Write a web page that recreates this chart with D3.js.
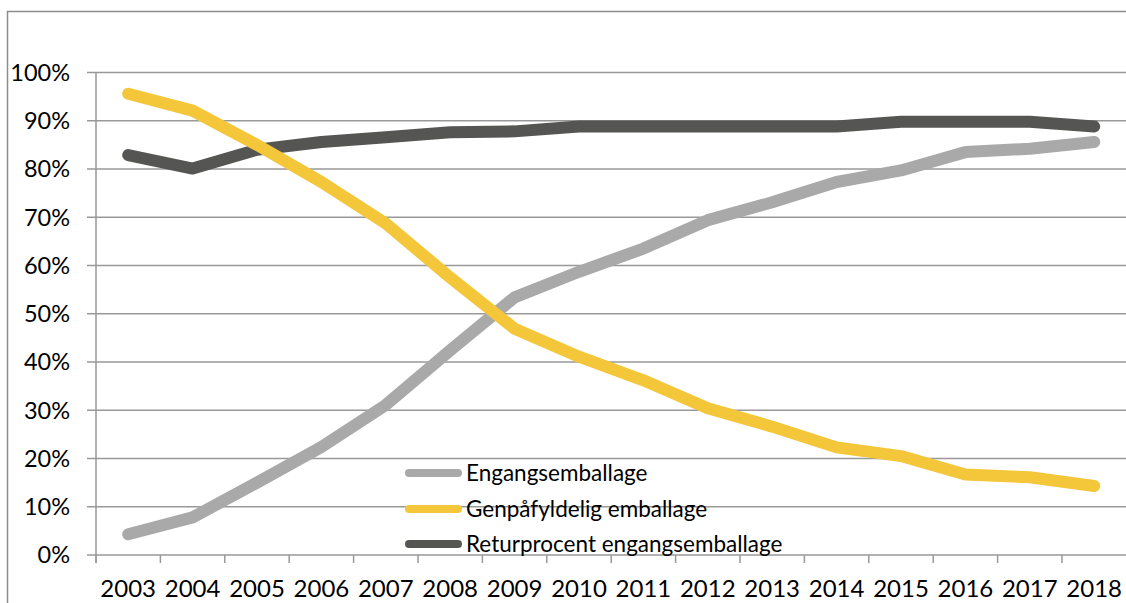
<!DOCTYPE html>
<html>
<head>
<meta charset="utf-8">
<script src="https://cdn.jsdelivr.net/npm/d3@7"></script>
<style>
  html, body { margin: 0; padding: 0; background: #fff; overflow: hidden; }
  svg { display: block; font-family: Lato, "Open Sans", sans-serif; }
</style>
</head>
<body>
<div id="chart"></div>
<script>
const years = ["2003","2004","2005","2006","2007","2008","2009","2010","2011","2012","2013","2014","2015","2016","2017","2018"];
const engang = [4.3, 7.8, 15, 22.4, 31.1, 42.4, 53.4, 58.7, 63.5, 69.4, 73.1, 77.3, 79.7, 83.5, 84.2, 85.6];
const genpaafyld = [95.6, 92.1, 85, 77.3, 68.7, 57.5, 46.9, 41.1, 36.2, 30.4, 26.6, 22.3, 20.5, 16.7, 16.1, 14.3];
const retur = [82.9, 80.1, 84, 85.6, 86.6, 87.6, 87.8, 88.8, 88.8, 88.8, 88.8, 88.8, 89.8, 89.8, 89.8, 88.8];
const yTicks = [0, 10, 20, 30, 40, 50, 60, 70, 80, 90, 100];
const seriesNames = ["Engangsemballage", "Genpåfyldelig emballage", "Returprocent engangsemballage"];
const seriesColors = ["#a9a9a9", "#f4c63a", "#555553"];

const width = 1126, height = 603;
const margin = { top: 72.5, left: 96, bottom: 555 };

const svg = d3.select("#chart")
  .append("svg")
  .attr("width", width)
  .attr("height", height);

// outer chart frame (runs off the right and bottom edge)
svg.append("rect")
  .attr("x", 7.5)
  .attr("y", 11.5)
  .attr("width", 1140)
  .attr("height", 620)
  .attr("fill", "none")
  .attr("stroke", "#8c8c8c")
  .attr("stroke-width", 1.5);

const x = d3.scaleBand()
  .domain(years)
  .range([margin.left, margin.left + 64.4 * years.length])
  .padding(0);

const y = d3.scaleLinear()
  .domain([0, 100])
  .range([margin.bottom, margin.top]);

// gridlines
svg.append("g")
  .selectAll("line")
  .data(yTicks)
  .join("line")
  .attr("x1", margin.left - 9)
  .attr("x2", width + 5)
  .attr("y1", d => y(d))
  .attr("y2", d => y(d))
  .attr("stroke", "#999")
  .attr("stroke-width", 1.5);

// y axis line
svg.append("line")
  .attr("x1", margin.left)
  .attr("x2", margin.left)
  .attr("y1", margin.top)
  .attr("y2", margin.bottom + 8)
  .attr("stroke", "#999")
  .attr("stroke-width", 1.5);

// x tick marks at band edges
svg.append("g")
  .selectAll("line")
  .data(years)
  .join("line")
  .attr("x1", d => x(d))
  .attr("x2", d => x(d))
  .attr("y1", margin.bottom)
  .attr("y2", margin.bottom + 8)
  .attr("stroke", "#999")
  .attr("stroke-width", 1.5);

// y labels
svg.append("g")
  .selectAll("text")
  .data(yTicks)
  .join("text")
  .attr("x", 70)
  .attr("y", d => y(d))
  .attr("dy", "0.36em")
  .attr("text-anchor", "end")
  .attr("font-size", 23.5)
  .attr("fill", "#000")
  .text(d => d + "%");

// x labels
svg.append("g")
  .selectAll("text")
  .data(years)
  .join("text")
  .attr("x", d => x(d) + x.bandwidth() / 2)
  .attr("y", 597)
  .attr("text-anchor", "middle")
  .attr("font-size", 24)
  .attr("fill", "#000")
  .text(d => d);

const line = d3.line()
  .x((d, i) => x(years[i]) + x.bandwidth() / 2)
  .y(d => y(d));

const allSeries = [engang, genpaafyld, retur];

// draw in the order the picture stacks them: gray, dark, yellow on top
[0, 2, 1].forEach(k => {
  svg.append("path")
    .datum(allSeries[k])
    .attr("d", line)
    .attr("fill", "none")
    .attr("stroke", seriesColors[k])
    .attr("stroke-width", 12)
    .attr("stroke-linecap", "round")
    .attr("stroke-linejoin", "round");
});

// legend
const legendRows = [473, 509, 544];
const legend = svg.append("g");
seriesNames.forEach((name, i) => {
  legend.append("line")
    .attr("x1", 409)
    .attr("x2", 458)
    .attr("y1", legendRows[i])
    .attr("y2", legendRows[i])
    .attr("stroke", seriesColors[i])
    .attr("stroke-width", 8)
    .attr("stroke-linecap", "round");
  legend.append("text")
    .attr("x", 466)
    .attr("y", legendRows[i])
    .attr("dy", "0.36em")
    .attr("font-size", 22.5)
    .attr("fill", "#000")
    .text(name);
});
</script>
</body>
</html>
